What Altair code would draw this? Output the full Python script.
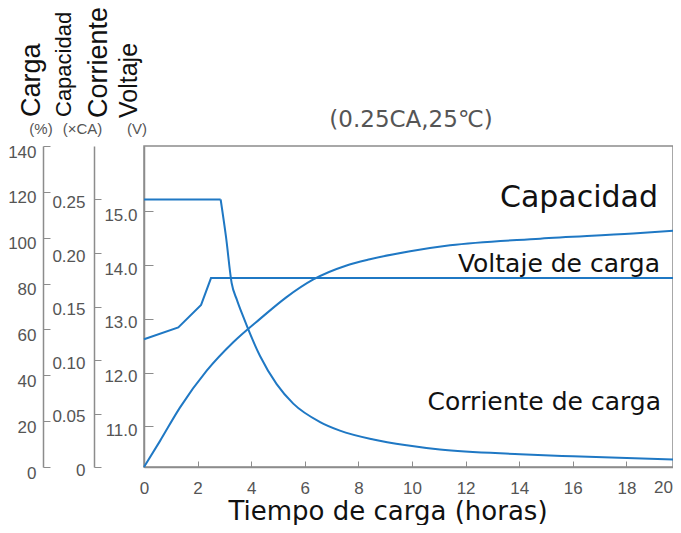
import altair as alt
import pandas as pd

# ---- data ----
x_ticks = [0, 2, 4, 6, 8, 10, 12, 14, 16, 18, 20]
last_tick = 20

hours_volt = [0, 1.28, 2.13, 2.5, 20]
voltage = [12.62, 12.84, 13.26, 13.76, 13.76]

# charge current: constant part, then the decay after the knee
hours_curr_flat = [0, 2.86]
current_flat = [0.25, 0.25]
hours_curr_decay = [2.86, 3.06, 3.27, 3.47, 3.71, 4.33, 4.95, 5.57, 6.57, 7.31, 8.56,
                    9.80, 11.04, 14.03, 16.0, 20.0]
current_decay = [0.25, 0.215, 0.172, 0.156, 0.140, 0.1037, 0.0774, 0.0592, 0.042, 0.034,
                 0.0257, 0.0203, 0.0163, 0.0120, 0.0100, 0.0067]

hours_cap = [0, 0.60, 1.34, 2.34, 3.33, 4.33, 5.32, 6.32, 7.56, 8.43, 9.93, 11.42, 14.78, 18.25, 20.0]
charge = [0, 11.4, 25.9, 42.0, 54.4, 64.6, 74.1, 81.8, 87.9, 90.6, 94.1, 96.7, 99.6, 101.8, 103.2]

volt_ticks = [11, 12, 13, 14, 15]
curr_ticks = [0, 0.05, 0.10, 0.15, 0.20, 0.25]
charge_ticks = [0, 20, 40, 60, 80, 100, 120, 140]

# ---- style ----
W, H = 529, 321
X_MAX = 529 / 26.8          # the visible part of the 0-20 h axis
BLUE = "#1f78c4"
GRAY = "#8c8c8c"
LABEL = "#555555"
FONT = "Liberation Sans"

df_v = pd.DataFrame({"h": hours_volt, "v": voltage})
df_i = pd.concat([
    pd.DataFrame({"h": hours_curr_flat, "i": current_flat, "seg": "flat"}),
    pd.DataFrame({"h": hours_curr_decay, "i": current_decay, "seg": "decay"}),
], ignore_index=True)
df_c = pd.DataFrame({"h": hours_cap, "c": charge})

x_scale = alt.Scale(domain=[0, X_MAX], nice=False, zero=False)
x_axis = alt.Axis(
    orient="top", offset=-H, values=x_ticks, tickSize=6, labelPadding=-27,
    labelBaseline="middle", labelFlush=False, labelOverlap=False, title=None,
    labelFontSize=17, labelColor=LABEL, labelFont=FONT,
    domainColor=GRAY, domainWidth=1.5, tickColor=GRAY, grid=False,
)
x_enc = alt.X("h:Q", scale=x_scale, axis=x_axis)


def yaxis(offset, values, tick, pad, loff, **kw):
    return alt.Axis(
        orient="right", offset=offset, values=values, tickSize=tick, labelPadding=pad,
        labelAlign="right", labelBaseline="middle", labelOffset=loff, labelOverlap=False,
        title=None, labelFontSize=17, labelColor=LABEL, labelFont=FONT,
        domainColor=GRAY, domainWidth=1.5, tickColor=GRAY, grid=False, **kw,
    )


line_c = alt.Chart(df_c).mark_line(color=BLUE, strokeWidth=2, interpolate="monotone").encode(
    x=x_enc,
    y=alt.Y("c:Q", scale=alt.Scale(domain=[0, 140], nice=False, zero=False),
            axis=yaxis(-(W + 101), charge_ticks, 7, -14, 6)),
)
line_i = alt.Chart(df_i).mark_line(color=BLUE, strokeWidth=2, interpolate="monotone").encode(
    x=x_enc,
    y=alt.Y("i:Q", scale=alt.Scale(domain=[0, 0.30], nice=False, zero=False),
            axis=yaxis(-(W + 50), curr_ticks, 7, -16, 3,
                       labelExpr="datum.value == 0 ? '0' : format(datum.value, '.2f')")),
    detail="seg:N",
)
line_v = alt.Chart(df_v).mark_line(color=BLUE, strokeWidth=2).encode(
    x=x_enc,
    y=alt.Y("v:Q", scale=alt.Scale(domain=[10.24, 16.22], nice=False, zero=False),
            axis=yaxis(-W, volt_ticks, 9, -16, 4, format=".1f")),
)

# the "20" tick label sits at the right edge of the picture
last_label = alt.Chart(pd.DataFrame({"t": [str(last_tick)]})).mark_text(
    font=FONT, fontSize=17, color=LABEL, align="right", baseline="middle", dx=-7
).encode(x=alt.X(datum=last_tick, type="quantitative", scale=x_scale, axis=x_axis),
         y=alt.value(H + 21), text="t:N")


def label(text, x, y, size, font="DejaVu Sans", color="#111111", align="right",
          baseline="alphabetic", angle=0):
    return alt.Chart(pd.DataFrame({"t": [text]})).mark_text(
        font=font, fontSize=size, color=color, align=align, baseline=baseline, angle=angle
    ).encode(x=alt.value(x), y=alt.value(y), text="t:N")


texts = [
    label("Capacidad", 514, 61, 30),
    label("Voltaje de carga", 516, 126, 25),
    label("Corriente de carga", 517, 264, 25),
    label("Tiempo de carga (horas)", 244, H + 53, 26, align="center"),
    label("(0.25CA,25℃)", 267, -26, 23, color=LABEL, align="center", baseline="middle"),
    label("Carga", -104.5, -29, 27, font=FONT, align="left", angle=270),
    label("Capacidad", -73, -29, 22, font=FONT, align="left", angle=270),
    label("Corriente", -37.5, -28, 27, font=FONT, align="left", angle=270),
    label("Voltaje", -7, -28, 25, font=FONT, align="left", angle=270),
    label("(%)", -103, -17, 15, font=FONT, color=LABEL, align="center", baseline="middle"),
    label("(×CA)", -61.5, -17, 15, font=FONT, color=LABEL, align="center", baseline="middle"),
    label("(V)", -7, -17, 15, font=FONT, color=LABEL, align="center", baseline="middle"),
]

chart = (
    alt.layer(line_c, line_i, line_v, last_label, *texts)
    .resolve_scale(y="independent")
    .properties(
        width=W, height=H,
        autosize=alt.AutoSizeParams(type="none"),
        padding={"left": 136, "top": 138, "right": 0, "bottom": 58},
        background="white",
    )
    .configure_view(stroke=GRAY, strokeWidth=1.5)
    .configure_axis(grid=False)
)

chart.save("out.html", embed_options={"renderer": "svg", "actions": False})
